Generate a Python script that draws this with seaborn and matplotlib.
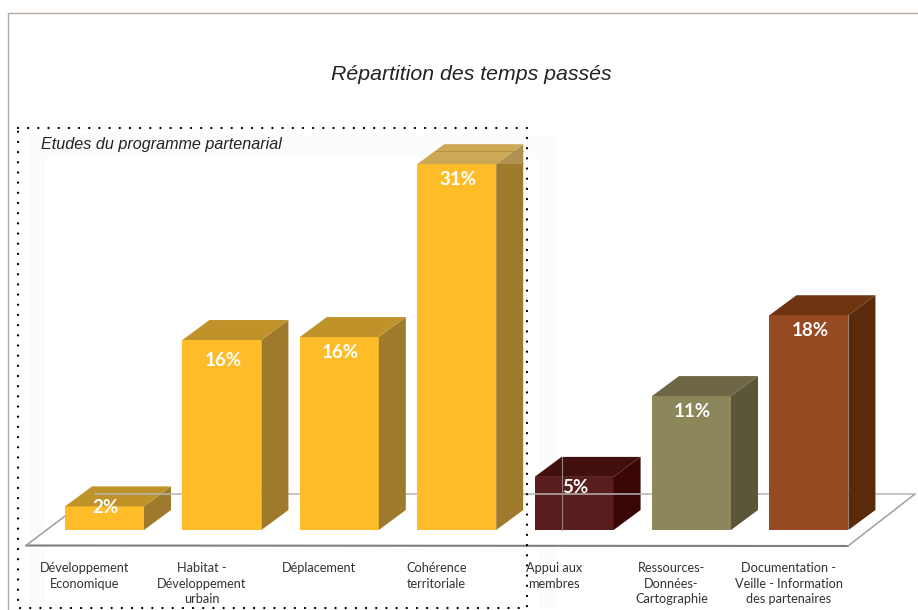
import matplotlib
matplotlib.use("Agg")
import matplotlib.pyplot as plt
from matplotlib.patches import Polygon, Rectangle
from matplotlib.transforms import Affine2D
import pandas as pd
import seaborn as sns

# Données
categories = ["Développement\nEconomique", "Habitat -\nDéveloppement\nurbain", "Déplacement",
              "Cohérence\nterritoriale", "Appui aux\nmembres", "Ressources-\nDonnées-\nCartographie",
              "Documentation -\nVeille - Information\ndes partenaires"]
heights = [2.0, 16.1, 16.35, 31.0, 4.5, 11.35, 18.2]
value_labels = ["2%", "16%", "16%", "31%", "5%", "11%", "18%"]

front_colors = ["#febc28", "#febc28", "#febc28", "#febc28", "#5a1d1d", "#8c875a", "#954a21"]
side_colors = ["#a07a2c", "#a07a2c", "#a07a2c", "#a07a2c", "#3a0505", "#5b5638", "#5a2b0a"]
top_colors = ["#bf9329", "#bf9329", "#bf9329", "#cda855", "#431010", "#6d6746", "#6e3510"]

# Mise en page (pixels de l'image)
W, H = 918, 610
PITCH = 117.4
FIRST_X = 104.5
BASE_Y = 530
PX_PER_UNIT = 11.8
DEPTH_X = 27 / PITCH
DEPTH_Y = 20 / PX_PER_UNIT
LABEL_DROP = [0, 19, 14, 14, 10, 14, 14]

sns.set_theme(style="white")
plt.rcParams["font.family"] = ["Lato", "DejaVu Sans"]

fig = plt.figure(figsize=(W / 100, H / 100), dpi=100)
ax = fig.add_axes([0, 0, 1, 1])
px = Affine2D().scale(1 / W, -1 / H).translate(0, 1) + fig.transFigure

df = pd.DataFrame({"categorie": categories, "part": heights})
sns.barplot(data=df, x="categorie", y="part", hue="categorie", palette=front_colors,
            width=0.673, saturation=1, legend=False, ax=ax, zorder=3, linewidth=0)
ax.set_xlim(-FIRST_X / PITCH, (W - FIRST_X) / PITCH)
ax.set_ylim(-(H - BASE_Y) / PX_PER_UNIT, BASE_Y / PX_PER_UNIT)
ax.axis("off")

# ombre très légère derrière le cadre
ax.add_patch(Rectangle((30, 135), 525, 474, transform=px, fc="#fcfcfc", ec="none", zorder=0))
ax.add_patch(Rectangle((46, 158), 492, 451, transform=px, fc="white", ec="none", zorder=0.1))

# plancher
ax.add_patch(Polygon([(26, 545), (848, 546), (915, 494), (95, 494)], closed=True, transform=px,
                     fc="white", ec="none", zorder=0.5))
ax.plot([26, 848], [545.5, 546], transform=px, color="#808083", lw=1.5, zorder=1)
ax.plot([26, 65], [545.5, 516], transform=px, color="#a5a5a8", lw=1.2, zorder=1)
ax.plot([848, 915], [546, 494], transform=px, color="#a5a5a8", lw=1.2, zorder=1)
ax.plot([95, 915], [494, 494], transform=px, color="#b5b5b5", lw=1.1, zorder=2)

# faces avant, côté et dessus de chaque barre
bars = [c[0] for c in ax.containers]
for i, bar in enumerate(bars):
    x0, w, h = bar.get_x(), bar.get_width(), bar.get_height()
    x1 = x0 + w
    z = 1.5 if h < 6 else 3
    bar.set_zorder(z)
    ax.add_patch(Polygon([(x1, 0), (x1 + DEPTH_X, DEPTH_Y), (x1 + DEPTH_X, h + DEPTH_Y), (x1, h)],
                         closed=True, fc=side_colors[i], ec="none", zorder=z))
    ax.add_patch(Polygon([(x0, h), (x1, h), (x1 + DEPTH_X, h + DEPTH_Y), (x0 + DEPTH_X, h + DEPTH_Y)],
                         closed=True, fc=top_colors[i], ec="none", zorder=z))
    ax.text(x0 + w / 2 + 0.01, h - (LABEL_DROP[i] + 1) / PX_PER_UNIT, value_labels[i], color="white",
            fontsize=13.5, fontweight="bold", ha="center", va="center", zorder=6)
    ax.text(i - 0.17, -32 / PX_PER_UNIT, categories[i], color="#333333",
            fontsize=9.2, ha="center", va="top", linespacing=1.36, zorder=6)

# voile clair sur le haut de la grande barre et trait vertical sur la barre sombre
ax.add_patch(Polygon([(497, 164), (523, 144), (523, 164)], closed=True, transform=px,
                     fc="white", ec="none", alpha=0.18, zorder=4))
ax.plot([435, 523], [151, 151], transform=px, color="#b59445", lw=0.7, zorder=4)
ax.plot([497, 523], [163, 163], transform=px, color="#b59445", lw=0.7, zorder=4)
ax.plot([562, 562], [457, 530], transform=px, color="#9a8080", lw=0.8, zorder=4)

# cadre extérieur
ax.plot([8, 8, 918], [610, 13, 13], transform=px, color="#b5a79b", lw=1.0, zorder=5)

# cadre pointillé du programme partenarial
ax.plot([18, 527, 527, 18, 18], [128, 128, 608, 608, 128], transform=px, color="black", lw=1.7,
        linestyle=(0, (0.01, 4.3)), dash_capstyle="round", zorder=5)

ax.text(471, 74, "Répartition des temps passés", transform=px, family="Liberation Sans",
        style="italic", fontsize=15.3, color="#222222", ha="center", va="center")
ax.text(41, 145, "Etudes du programme partenarial", transform=px, family="Liberation Sans",
        style="italic", fontsize=11.6, color="#222222", ha="left", va="center")

fig.savefig("out.png", dpi=100)
